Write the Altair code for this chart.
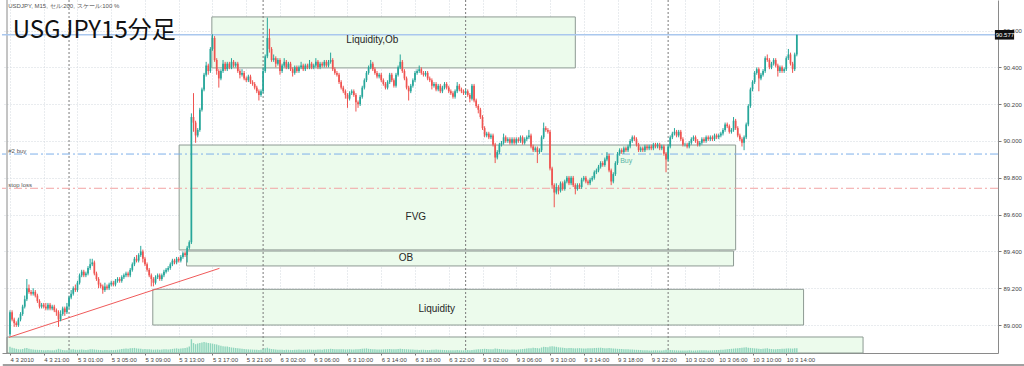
import altair as alt
import pandas as pd

# ---------------- data ----------------
OPEN0 = 88.95
CLOSE = [
    89.07, 89.03, 89.01, 89.00, 89.03, 89.06, 89.10, 89.14, 89.20, 89.18, 89.17, 89.18, 89.16, 89.13, 89.10, 89.11,
    89.10, 89.09, 89.11, 89.09, 89.10, 89.08, 89.07, 89.03, 89.06, 89.09, 89.07, 89.10, 89.15, 89.17, 89.20, 89.19,
    89.23, 89.27, 89.29, 89.27, 89.28, 89.31, 89.33, 89.34, 89.28, 89.25, 89.22, 89.21, 89.19, 89.21, 89.20, 89.22,
    89.23, 89.22, 89.24, 89.25, 89.24, 89.26, 89.27, 89.28, 89.27, 89.30, 89.33, 89.36, 89.35, 89.38, 89.40, 89.36,
    89.33, 89.30, 89.27, 89.25, 89.23, 89.26, 89.27, 89.25, 89.27, 89.29, 89.30, 89.31, 89.33, 89.35, 89.34, 89.36,
    89.35, 89.37, 89.39, 89.38, 89.42, 89.45, 90.13, 90.10, 90.03, 90.06, 90.17, 90.28, 90.36, 90.41, 90.38, 90.50,
    90.56, 90.44, 90.38, 90.34, 90.38, 90.42, 90.39, 90.42, 90.40, 90.43, 90.41, 90.42, 90.38, 90.36, 90.37, 90.34,
    90.33, 90.35, 90.32, 90.31, 90.29, 90.27, 90.25, 90.27, 90.38, 90.46, 90.56, 90.50, 90.44, 90.45, 90.42, 90.44,
    90.38, 90.41, 90.43, 90.40, 90.42, 90.39, 90.37, 90.40, 90.38, 90.40, 90.41, 90.39, 90.41, 90.40, 90.42, 90.40,
    90.41, 90.43, 90.40, 90.42, 90.41, 90.43, 90.41, 90.43, 90.44, 90.39, 90.37, 90.36, 90.32, 90.29, 90.27, 90.25,
    90.23, 90.26, 90.27, 90.25, 90.21, 90.20, 90.24, 90.29, 90.33, 90.37, 90.40, 90.42, 90.39, 90.37, 90.35, 90.36,
    90.33, 90.31, 90.29, 90.32, 90.36, 90.33, 90.30, 90.36, 90.40, 90.43, 90.38, 90.34, 90.29, 90.27, 90.30, 90.33,
    90.37, 90.38, 90.39, 90.37, 90.36, 90.37, 90.34, 90.33, 90.30, 90.31, 90.28, 90.30, 90.27, 90.29, 90.31, 90.29,
    90.27, 90.26, 90.24, 90.27, 90.30, 90.28, 90.27, 90.26, 90.27, 90.25, 90.23, 90.30, 90.22, 90.19, 90.17, 90.13,
    90.07, 90.03, 90.04, 90.02, 90.03, 89.98, 89.91, 89.94, 89.98, 89.99, 90.02, 90.00, 90.01, 89.99, 90.01, 89.99,
    90.01, 90.00, 90.02, 89.99, 90.01, 90.02, 90.03, 89.97, 89.95, 89.96, 89.94, 89.95, 90.02, 90.07, 90.06, 90.05,
    89.85, 89.76, 89.72, 89.75, 89.73, 89.77, 89.74, 89.78, 89.80, 89.77, 89.80, 89.76, 89.74, 89.76, 89.75, 89.79,
    89.80, 89.78, 89.77, 89.79, 89.80, 89.83, 89.84, 89.86, 89.88, 89.87, 89.90, 89.92, 89.84, 89.78, 89.82, 89.88,
    89.93, 89.95, 89.94, 89.96, 89.95, 89.97, 90.00, 90.02, 90.01, 89.98, 89.95, 89.96, 89.95, 89.97, 89.96, 89.97,
    89.96, 89.98, 89.97, 89.98, 89.96, 89.97, 89.93, 89.90, 89.97, 90.02, 90.04, 90.05, 90.03, 90.05, 90.01, 89.98,
    89.98, 89.97, 89.99, 90.01, 90.02, 90.00, 89.98, 89.99, 90.01, 90.00, 90.02, 90.01, 90.02, 90.01, 90.03, 90.02,
    90.03, 90.04, 90.06, 90.09, 90.08, 90.05, 90.06, 90.11, 90.07, 90.03, 90.01, 89.99, 90.02, 90.09, 90.19, 90.28,
    90.32, 90.37, 90.39, 90.34, 90.36, 90.38, 90.45, 90.44, 90.40, 90.42, 90.44, 90.41, 90.38, 90.40, 90.38, 90.39,
    90.45, 90.47, 90.42, 90.39, 90.47, 90.577,
]
# upper / lower wick length in pips (0.01)
UW = [
    1, 1, 1, 1, 1, 1, 1, 2, 5, 2, 1, 2, 1, 1, 1, 1,
    1, 2, 1, 1, 1, 1, 1, 1, 2, 1, 1, 2, 1, 2, 1, 2,
    1, 1, 1, 1, 1, 1, 3, 2, 1, 1, 1, 1, 1, 2, 1, 1,
    1, 1, 1, 1, 1, 1, 1, 1, 1, 1, 1, 1, 2, 1, 3, 1,
    1, 1, 1, 1, 1, 1, 1, 1, 1, 1, 1, 1, 1, 1, 1, 1,
    1, 1, 1, 1, 1, 1, 2, 13, 1, 1, 1, 1, 1, 2, 1, 1,
    2, 1, 1, 1, 1, 2, 1, 1, 1, 2, 1, 1, 1, 1, 2, 1,
    1, 1, 1, 1, 1, 1, 1, 1, 2, 1, 11, 5, 1, 2, 1, 1,
    1, 1, 2, 1, 1, 1, 1, 1, 1, 1, 2, 1, 1, 1, 2, 1,
    1, 2, 1, 1, 1, 1, 1, 1, 4, 1, 1, 1, 1, 1, 1, 1,
    1, 1, 1, 1, 1, 1, 1, 1, 1, 1, 1, 2, 1, 1, 1, 1,
    1, 1, 1, 1, 1, 1, 1, 1, 1, 4, 1, 1, 1, 1, 1, 1,
    1, 1, 2, 1, 1, 1, 1, 1, 1, 1, 1, 1, 1, 1, 1, 1,
    1, 1, 1, 1, 2, 1, 1, 1, 1, 1, 1, 1, 1, 1, 1, 1,
    1, 1, 1, 1, 1, 1, 1, 1, 1, 1, 2, 1, 1, 1, 1, 1,
    1, 1, 1, 1, 1, 1, 3, 1, 1, 1, 1, 1, 1, 3, 1, 1,
    1, 1, 1, 2, 1, 1, 1, 1, 1, 1, 1, 1, 1, 1, 1, 1,
    1, 1, 1, 1, 1, 1, 1, 1, 1, 1, 1, 2, 1, 1, 1, 1,
    1, 1, 1, 1, 1, 1, 1, 1, 1, 1, 1, 1, 1, 1, 1, 1,
    1, 1, 1, 1, 1, 1, 1, 1, 1, 1, 1, 2, 1, 1, 1, 1,
    1, 1, 1, 1, 1, 1, 1, 1, 1, 1, 1, 1, 1, 1, 1, 1,
    1, 1, 1, 1, 1, 1, 1, 2, 1, 1, 1, 1, 1, 1, 1, 1,
    1, 1, 1, 1, 1, 1, 1, 2, 1, 1, 1, 1, 1, 1, 1, 1,
    1, 3, 1, 1, 1, 0,
]
LW = [
    1, 1, 2, 1, 1, 1, 1, 1, 1, 1, 1, 1, 1, 1, 1, 1,
    1, 1, 1, 1, 1, 1, 2, 4, 1, 1, 2, 1, 1, 1, 1, 1,
    1, 1, 1, 1, 1, 1, 1, 1, 1, 1, 2, 1, 2, 1, 1, 1,
    1, 1, 1, 1, 1, 1, 1, 1, 1, 1, 1, 1, 1, 1, 1, 2,
    1, 1, 1, 4, 2, 1, 1, 1, 1, 1, 1, 1, 1, 1, 1, 1,
    1, 1, 1, 1, 4, 1, 1, 5, 4, 1, 1, 1, 1, 1, 2, 1,
    1, 1, 2, 5, 1, 1, 1, 1, 1, 1, 1, 1, 1, 2, 1, 1,
    1, 1, 1, 1, 1, 1, 3, 1, 1, 1, 1, 2, 1, 1, 2, 1,
    2, 1, 1, 1, 1, 1, 2, 1, 1, 1, 1, 1, 1, 1, 1, 1,
    1, 1, 1, 1, 1, 1, 1, 1, 1, 1, 1, 1, 1, 1, 1, 2,
    5, 1, 1, 1, 5, 2, 1, 1, 1, 1, 1, 1, 1, 1, 1, 1,
    1, 1, 1, 1, 1, 1, 1, 1, 1, 1, 1, 1, 1, 5, 1, 1,
    1, 1, 1, 1, 1, 1, 1, 1, 2, 1, 1, 1, 1, 1, 1, 1,
    1, 1, 1, 1, 1, 1, 1, 1, 1, 1, 2, 1, 1, 1, 2, 1,
    1, 1, 1, 1, 1, 1, 3, 1, 1, 1, 1, 1, 1, 1, 1, 1,
    1, 1, 1, 1, 1, 1, 1, 1, 1, 1, 6, 1, 1, 1, 1, 1,
    1, 2, 8, 1, 2, 1, 1, 1, 1, 1, 1, 1, 3, 1, 1, 1,
    1, 1, 1, 1, 1, 1, 1, 1, 1, 1, 1, 1, 1, 2, 1, 1,
    1, 1, 1, 1, 1, 1, 1, 1, 1, 1, 1, 1, 1, 1, 1, 1,
    1, 1, 1, 1, 1, 1, 1, 7, 1, 1, 1, 1, 1, 1, 1, 1,
    1, 1, 1, 1, 1, 1, 1, 1, 1, 1, 1, 1, 1, 1, 1, 1,
    1, 1, 1, 1, 1, 1, 1, 1, 1, 1, 1, 2, 4, 1, 1, 1,
    1, 1, 1, 7, 1, 1, 1, 1, 1, 1, 1, 1, 3, 1, 1, 1,
    1, 1, 1, 2, 1, 1,
]
VOL = [
    560, 480, 420, 380, 340, 330, 360, 420, 450, 380, 340, 320, 300, 290, 280, 270,
    260, 250, 270, 240, 250, 260, 300, 380, 320, 280, 260, 250, 300, 320, 340, 300,
    290, 300, 320, 300, 280, 300, 330, 350, 320, 300, 280, 270, 260, 280, 270, 260,
    270, 260, 280, 300, 320, 360, 380, 400, 380, 420, 440, 460, 420, 400, 380, 350,
    360, 340, 330, 320, 300, 310, 320, 300, 310, 330, 340, 320, 350, 370, 400, 420,
    380, 400, 420, 450, 500, 600, 1250, 900, 800, 850, 900, 950, 1000, 950, 900, 880,
    850, 800, 760, 700, 650, 620, 600, 580, 540, 500, 480, 450, 420, 400, 380, 360,
    340, 330, 320, 310, 300, 290, 280, 300, 360, 420, 480, 400, 360, 340, 320, 300,
    300, 290, 280, 300, 290, 280, 270, 290, 300, 310, 300, 290, 300, 310, 320, 300,
    290, 300, 320, 310, 300, 330, 340, 350, 380, 360, 340, 330, 350, 340, 330, 320,
    330, 340, 320, 310, 330, 340, 360, 380, 400, 420, 380, 360, 340, 330, 320, 310,
    320, 330, 340, 350, 360, 340, 330, 350, 370, 380, 360, 350, 340, 330, 320, 310,
    300, 290, 280, 290, 300, 280, 270, 280, 290, 300, 310, 300, 290, 280, 270, 260,
    250, 240, 250, 260, 270, 260, 250, 240, 260, 270, 260, 280, 300, 320, 330, 340,
    360, 380, 360, 340, 330, 350, 400, 380, 360, 340, 330, 320, 310, 300, 320, 310,
    300, 320, 340, 360, 380, 400, 420, 440, 480, 460, 440, 420, 500, 560, 540, 520,
    580, 620, 600, 560, 520, 500, 480, 460, 440, 450, 460, 440, 420, 430, 440, 420,
    400, 410, 420, 430, 440, 450, 460, 470, 480, 460, 440, 420, 450, 430, 410, 400,
    380, 370, 360, 350, 340, 330, 320, 310, 300, 290, 280, 270, 260, 250, 240, 230,
    230, 240, 250, 240, 230, 220, 260, 300, 280, 270, 260, 250, 240, 230, 220, 230,
    220, 230, 240, 230, 220, 230, 240, 250, 260, 250, 240, 230, 240, 250, 260, 270,
    280, 290, 300, 320, 340, 360, 380, 400, 420, 440, 460, 480, 500, 520, 480, 460,
    440, 420, 400, 380, 360, 380, 400, 420, 380, 360, 340, 350, 360, 370, 380, 390,
    400, 420, 410, 400, 420, 440,
]
X_LABELS = ['4 3 2010', '4 3 21:00', '5 3 01:00', '5 3 05:00', '5 3 09:00', '5 3 13:00',
            '5 3 17:00', '5 3 21:00', '6 3 02:00', '6 3 06:00', '6 3 10:00', '6 3 14:00',
            '6 3 18:00', '6 3 22:00', '9 3 02:00', '9 3 06:00', '9 3 10:00', '9 3 14:00',
            '9 3 18:00', '9 3 22:00', '10 3 02:00', '10 3 06:00', '10 3 10:00', '10 3 14:00']
Y_TICKS = [89.0, 89.2, 89.4, 89.6, 89.8, 90.0, 90.2, 90.4, 90.6]
SEP_IDX = [28, 120, 216, 312]

BOX_X1 = [95.7, 80.2, 83.7, 67.7, -1.41]
BOX_X2 = [268.0, 344.0, 343.0, 376.2, 404.4]
BOX_Y1 = [90.674, 89.978, 89.402, 89.194, 88.935]
BOX_Y2 = [90.397, 89.408, 89.321, 89.000, 88.848]
BOX_TEXT = ['Liquidity,Ob', 'FVG', 'OB', 'Liquidity']
BOX_TX = [171.8, 192.4, 187.7, 202.3]
BOX_TY = [90.549, 89.587, 89.364, 89.087]

LAST_PRICE = 90.577
BUY_PRICE = 89.929
STOP_PRICE = 89.743
TREND_X = [-0.5, 99.3]
TREND_Y = [88.933, 89.308]

X_DOM = [-1.41, 466.0]
Y_DOM = [88.848, 90.766]
FOOT_Y = 88.783   # window tab strip under the time axis

GREEN = '#26a69a'
RED = '#ef5350'

# ---------------- tables ----------------
rows = []
prev = OPEN0
for i, c in enumerate(CLOSE):
    o = prev
    rows.append(dict(i=i, open=o, close=c,
                     high=max(o, c) + UW[i] * 0.01,
                     low=min(o, c) - LW[i] * 0.01,
                     dir='up' if c >= o else 'down',
                     vol=VOL[i]))
    prev = c
candles = pd.DataFrame(rows)

boxes = pd.DataFrame(dict(x1=BOX_X1, x2=BOX_X2, y1=BOX_Y1, y2=BOX_Y2))
box_text = pd.DataFrame(dict(t=BOX_TEXT, x=BOX_TX, y=BOX_TY))
seps = pd.DataFrame(dict(x=SEP_IDX))
trend = pd.DataFrame(dict(x=[TREND_X[0]], x2=[TREND_X[1]], y=[TREND_Y[0]], y2=[TREND_Y[1]]))

xs = alt.Scale(domain=X_DOM, nice=False, zero=False)
ys = alt.Scale(domain=Y_DOM, nice=False, zero=False)

label_arr = '[' + ','.join("'%s'" % s for s in X_LABELS) + ']'
x_axis = alt.Axis(values=[16 * k for k in range(len(X_LABELS))],
                  labelExpr=label_arr + '[round(datum.value/16)]',
                  labelAlign='left', labelFontSize=6, labelFont='Liberation Sans',
                  labelColor='#444', labelPadding=1, tickSize=2, tickColor='#777',
                  domainColor='#8a8a8a', grid=True, gridColor='#d3d8de', gridDash=[1, 2],
                  labelFlush=False, labelOverlap=False, title=None, zindex=0)
y_axis = alt.Axis(orient='right', values=Y_TICKS, format='.3f', labelFontSize=6,
                  labelFont='Liberation Sans', labelColor='#444', labelPadding=2,
                  tickSize=3, tickColor='#777', domainColor='#8a8a8a', grid=True,
                  gridColor='#d3d8de', gridDash=[1, 2], title=None, zindex=0)


def X(f):
    return alt.X(f, type='quantitative', scale=xs, axis=x_axis)


def Y(f):
    return alt.Y(f, type='quantitative', scale=ys, axis=y_axis)


rect = alt.Chart(boxes).mark_rect(fill='#ecfbec', stroke='#8d9a93', strokeWidth=1).encode(
    x=X('x1'), x2='x2', y=Y('y1'), y2='y2')

left_border = alt.Chart(pd.DataFrame(dict(x=[X_DOM[0]]))).mark_rule(
    color='#8a8a8a', strokeWidth=1).encode(x=X('x'))

foot = alt.Chart(pd.DataFrame(dict(x=[X_DOM[0] - 2], x2=[X_DOM[1] + 20], y=[FOOT_Y]))).mark_rule(
    color='#a0a0a0', strokeWidth=2).encode(x=X('x'), x2='x2', y=Y('y'))

sep = alt.Chart(seps).mark_rule(color='#7a7a7a', strokeDash=[2, 2], strokeWidth=1).encode(x=X('x'))

last_line = alt.Chart(pd.DataFrame(dict(p=[LAST_PRICE]))).mark_rule(
    color='#a9c7ee', strokeWidth=1.5).encode(y=Y('p'))
buy_line = alt.Chart(pd.DataFrame(dict(p=[BUY_PRICE]))).mark_rule(
    color='#7eb0ea', strokeDash=[8, 3, 2, 3], strokeWidth=1).encode(y=Y('p'))
stop_line = alt.Chart(pd.DataFrame(dict(p=[STOP_PRICE]))).mark_rule(
    color='#f3a3a3', strokeDash=[8, 3, 2, 3], strokeWidth=1).encode(y=Y('p'))

trend_line = alt.Chart(trend).mark_rule(color='#f05a5a', strokeWidth=1).encode(
    x=X('x'), x2='x2', y=Y('y'), y2='y2')

col = alt.Color('dir:N', scale=alt.Scale(domain=['up', 'down'], range=[GREEN, RED]), legend=None)
wicks = alt.Chart(candles).mark_rule(strokeWidth=1).encode(x=X('i'), y=Y('low'), y2='high', color=col)
bodies = alt.Chart(candles).mark_bar(size=1.7).encode(x=X('i'), y=Y('open'), y2='close', color=col)

btext = alt.Chart(box_text).mark_text(font='Liberation Sans', fontSize=10, color='#262626',
                                      align='center', baseline='middle').encode(
    x=X('x'), y=Y('y'), text='t:N')

misc = pd.DataFrame(dict(
    t=['#2 buy', 'stop loss', 'USDJPY, M15, セル:200, スケール:100 %'],
    x=[-0.8, -0.8, -0.8],
    y=[89.948, 89.761, 90.736]))
misc_text = alt.Chart(misc).mark_text(font='Liberation Sans', fontSize=6, color='#555',
                                      align='left', baseline='middle').encode(
    x=X('x'), y=Y('y'), text='t:N')

buy_lbl = alt.Chart(pd.DataFrame(dict(t=['Buy'], x=[292.1], y=[89.892]))).mark_text(
    font='Liberation Sans', fontSize=7, color='#5bb5a5', align='center', baseline='middle').encode(
    x=X('x'), y=Y('y'), text='t:N')

title = alt.Chart(pd.DataFrame(dict(t=['USGJPY15分足'], x=[1.3], y=[90.558]))).mark_text(
    font='Noto Sans CJK JP', fontSize=24, color='#111', align='left', baseline='alphabetic').encode(
    x=X('x'), y=Y('y'), text='t:N')

price_box = alt.Chart(pd.DataFrame(dict(x1=[466.9], x2=[476.0], y1=[90.603], y2=[90.551]))).mark_rect(
    color='#111').encode(x=X('x1'), x2='x2', y=Y('y1'), y2='y2')
price_txt = alt.Chart(pd.DataFrame(dict(t=['%.3f' % LAST_PRICE], x=[467.3], y=[LAST_PRICE]))).mark_text(
    font='Liberation Sans', fontSize=6, color='white', align='left', baseline='middle').encode(
    x=X('x'), y=Y('y'), text='t:N')

main = alt.layer(rect, left_border, foot, sep, last_line, buy_line, stop_line, trend_line,
                 wicks, bodies, btext, misc_text, buy_lbl, title, price_box, price_txt)

vol = alt.Chart(candles).mark_bar(size=1.4, color='#8fd5bd').encode(
    x=X('i'), y=alt.Y('vol:Q', scale=alt.Scale(domain=[0, 32000]), axis=None))

chart = alt.layer(main, vol).resolve_scale(y='independent').properties(
    width=996, height=353,
    padding={'left': 2, 'top': 0, 'right': 26, 'bottom': 13},
    autosize=alt.AutoSizeParams(type='none'),
    background='white',
).configure_view(stroke=None)

chart.save('out.html', embed_options={'renderer': 'svg', 'actions': False})
